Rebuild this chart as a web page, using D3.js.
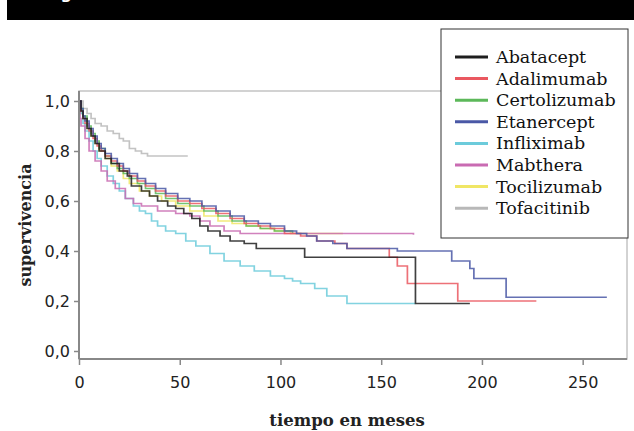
<!DOCTYPE html>
<html>
<head>
<meta charset="utf-8">
<script src="https://cdn.jsdelivr.net/npm/d3@7"></script>
<style>
  body { margin: 0; background: #fff; }
  svg { display: block; }
</style>
</head>
<body>
<svg width="634" height="431"></svg>
<script>
// survival curves, [months, survival]
const abatacept = [[0,1],[1,0.96],[2,0.93],[4,0.89],[6,0.86],[8,0.83],[10,0.80],[13,0.77],[16,0.75],[20,0.72],[24,0.70],[26,0.66],[31,0.64],[35,0.62],[39,0.60],[44,0.58],[48,0.57],[52,0.55],[56,0.53],[60,0.50],[64,0.48],[70,0.46],[75,0.44],[82,0.43],[88,0.41],[112,0.375],[167,0.19],[194,0.19]]
const adalimumab = [[0,1],[1,0.96],[2,0.93],[3,0.91],[5,0.88],[7,0.85],[9,0.82],[11,0.80],[13,0.78],[16,0.76],[19,0.74],[22,0.72],[25,0.70],[29,0.68],[33,0.66],[38,0.64],[43,0.62],[49,0.60],[55,0.59],[61,0.57],[68,0.55],[75,0.53],[82,0.51],[89,0.50],[95,0.49],[102,0.47],[110,0.46],[118,0.44],[127,0.43],[133,0.41],[154,0.375],[158,0.34],[163,0.27],[188,0.20],[227,0.20]]
const certolizumab = [[0,1],[1,0.97],[2,0.94],[4,0.90],[6,0.87],[8,0.84],[10,0.81],[13,0.78],[16,0.75],[19,0.73],[22,0.71],[25,0.69],[29,0.67],[33,0.65],[38,0.63],[43,0.61],[49,0.59],[55,0.58],[62,0.56],[69,0.54],[76,0.52],[83,0.50],[90,0.49],[97,0.48],[106,0.47]]
const etanercept = [[0,1],[1,0.97],[2,0.94],[3,0.92],[5,0.89],[7,0.86],[9,0.83],[11,0.81],[13,0.79],[16,0.77],[19,0.75],[22,0.73],[25,0.71],[29,0.69],[33,0.67],[38,0.65],[43,0.63],[49,0.61],[55,0.60],[61,0.58],[68,0.56],[75,0.54],[82,0.52],[89,0.51],[95,0.50],[102,0.48],[108,0.47],[113,0.46],[118,0.44],[126,0.43],[133,0.41],[158,0.40],[185,0.36],[194,0.33],[196,0.29],[212,0.215],[262,0.215]]
const infliximab = [[0,1],[1,0.95],[2,0.91],[3,0.88],[5,0.84],[7,0.80],[9,0.77],[11,0.74],[14,0.70],[17,0.67],[20,0.64],[23,0.61],[27,0.58],[30,0.56],[33,0.55],[36,0.52],[39,0.50],[43,0.48],[48,0.47],[53,0.44],[58,0.42],[65,0.39],[72,0.36],[80,0.34],[87,0.32],[95,0.30],[102,0.29],[106,0.28],[110,0.27],[117,0.25],[123,0.22],[133,0.19],[167,0.19]]
const mabthera = [[0,1],[0.5,0.93],[1,0.90],[3,0.85],[5,0.80],[8,0.76],[11,0.72],[14,0.68],[18,0.65],[23,0.61],[27,0.59],[31,0.58],[39,0.56],[48,0.55],[55,0.54],[60,0.52],[65,0.50],[72,0.48],[80,0.47],[166,0.465]]
const tocilizumab = [[0,1],[1,0.95],[2,0.93],[4,0.89],[6,0.86],[8,0.83],[10,0.80],[13,0.77],[16,0.74],[19,0.72],[22,0.69],[25,0.67],[30,0.64],[35,0.62],[41,0.60],[48,0.58],[55,0.56],[62,0.54],[69,0.52],[76,0.51],[83,0.50],[90,0.49],[97,0.48],[105,0.47],[131,0.47]]
const tofacitinib = [[0,1],[2,0.97],[4,0.95],[6,0.93],[8,0.91],[11,0.90],[14,0.88],[17,0.87],[20,0.85],[22,0.84],[25,0.81],[28,0.80],[31,0.79],[34,0.78],[54,0.78]]

const names = ['Abatacept','Adalimumab','Certolizumab','Etanercept','Infliximab','Mabthera','Tocilizumab','Tofacitinib']
const colors = ['#1e1e1e','#ea5860','#5cb85a','#4a58a6','#6ccbdb','#c96bb2','#f0e665','#b8b8b8']
const curves = [abatacept, adalimumab, certolizumab, etanercept, infliximab, mabthera, tocilizumab, tofacitinib]
const drawOrder = [7, 6, 2, 4, 5, 1, 3, 0]

const xTicks = [0, 50, 100, 150, 200, 250]
const yTicks = [0, 0.2, 0.4, 0.6, 0.8, 1.0]

const svg = d3.select('svg')

// title bar, cut at the top edge like the source
svg.append('rect')
    .attr('x', 7).attr('y', 0)
    .attr('width', 627).attr('height', 20)
    .attr('fill', '#000')
svg.append('text')
    .attr('x', 44).attr('y', -1)
    .attr('fill', '#fff')
    .style('font', 'bold 16px "DejaVu Sans"')
    .text('Figura')

const x = d3.scaleLinear().domain([0, 272]).range([79, 627])
const y = d3.scaleLinear().domain([-0.032, 1.04]).range([359, 91])

// frame
svg.append('rect')
    .attr('x', x(0)).attr('y', y(1.04))
    .attr('width', x(272) - x(0)).attr('height', y(-0.032) - y(1.04))
    .attr('fill', 'none')
    .attr('stroke', '#c4c4c4')
    .attr('stroke-width', 1.5)

const line = d3.line()
    .x(d => x(d[0]))
    .y(d => y(d[1]))
    .curve(d3.curveStepAfter)

drawOrder.forEach(i => {
    svg.append('path')
        .datum(curves[i])
        .attr('d', line)
        .attr('fill', 'none')
        .attr('stroke', colors[i])
        .attr('stroke-width', 1.7)
        .attr('stroke-opacity', 0.85)
})

// axes
const fmt = d => d3.format('.1f')(d).replace('.', ',')

const yAxis = svg.append('g')
    .attr('transform', `translate(${x(0)},0)`)
    .call(d3.axisLeft(y).tickValues(yTicks).tickFormat(fmt).tickSize(5).tickPadding(4))
yAxis.select('.domain').remove()

const xAxis = svg.append('g')
    .attr('transform', `translate(0,${y(-0.032)})`)
    .call(d3.axisBottom(x).tickValues(xTicks).tickSize(6).tickPadding(12))
xAxis.select('.domain').remove()

svg.selectAll('.tick line').attr('stroke', '#888').attr('stroke-width', 1.5)
svg.selectAll('.tick text')
    .attr('fill', '#222')
    .style('font', '16px "DejaVu Sans"')

svg.append('line')
    .attr('x1', x(0)).attr('x2', x(0))
    .attr('y1', y(1.04)).attr('y2', y(-0.032))
    .attr('stroke', '#888').attr('stroke-width', 2)
svg.append('line')
    .attr('x1', x(0)).attr('x2', x(272))
    .attr('y1', y(-0.032)).attr('y2', y(-0.032))
    .attr('stroke', '#888').attr('stroke-width', 2)

// axis titles
svg.append('text')
    .attr('transform', 'translate(31,225) rotate(-90)')
    .attr('text-anchor', 'middle')
    .attr('fill', '#222')
    .style('font', 'bold 16px "DejaVu Serif"')
    .text('supervivencia')

svg.append('text')
    .attr('x', 347).attr('y', 426)
    .attr('text-anchor', 'middle')
    .attr('fill', '#222')
    .style('font', 'bold 16.5px "DejaVu Serif"')
    .text('tiempo en meses')

// legend
const legend = svg.append('g')
legend.append('rect')
    .attr('x', 441).attr('y', 29)
    .attr('width', 187).attr('height', 209)
    .attr('fill', '#fff')
    .attr('stroke', '#333')
    .attr('stroke-width', 1)

names.forEach((n, i) => {
    const ly = 57 + i * 21.6
    legend.append('line')
        .attr('x1', 455).attr('x2', 488)
        .attr('y1', ly).attr('y2', ly)
        .attr('stroke', colors[i])
        .attr('stroke-width', 3)
    legend.append('text')
        .attr('x', 496).attr('y', ly + 6)
        .attr('fill', '#111')
        .style('font', '17.5px "DejaVu Serif"')
        .text(n)
})
</script>
</body>
</html>
